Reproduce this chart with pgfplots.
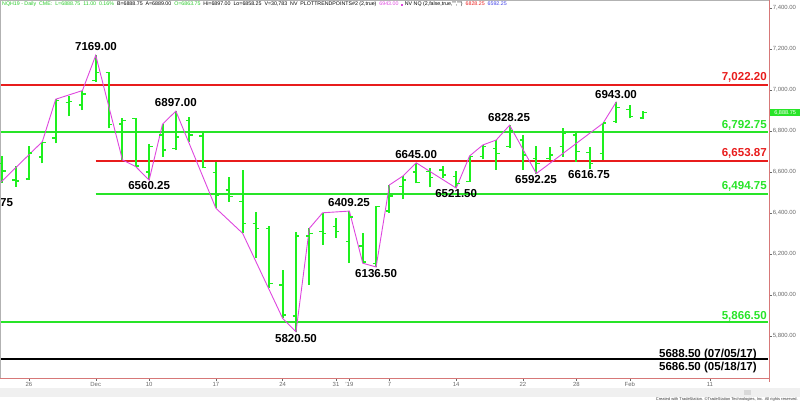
\documentclass[border=0pt]{standalone}
\usepackage{fontspec}
\setmainfont{Liberation Sans}
\usepackage{pgfplots}
\pgfplotsset{compat=1.18}
\usepackage{pgfplotstable}

\definecolor{bargreen}{RGB}{30,240,30}
\definecolor{lvlgreen}{RGB}{40,228,40}
\definecolor{lvlred}{RGB}{232,28,28}
\definecolor{trendpink}{RGB}{222,70,222}
\definecolor{axred}{RGB}{215,120,120}
\definecolor{tickgray}{RGB}{105,105,105}
\definecolor{hdrgreen}{RGB}{40,200,40}
\definecolor{hdrblue}{RGB}{60,60,230}

% open tick to the left, close tick to the right
\pgfdeclareplotmark{otick}{\pgfpathmoveto{\pgfpoint{-3.4bp}{0pt}}\pgfpathlineto{\pgfpoint{0pt}{0pt}}\pgfusepathqstroke}
\pgfdeclareplotmark{ctick}{\pgfpathmoveto{\pgfpoint{0pt}{0pt}}\pgfpathlineto{\pgfpoint{3.4bp}{0pt}}\pgfusepathqstroke}

% trading-day index (0 = Nov 26), open, high, low, close
\pgfplotstableread{
i  o        h        l        c
-2 6640     6678     6546     6605
-1 6560     6629     6528     6556
0  6565     6727     6561     6693
1  6673     6748     6642     6743
2  6766     6955     6740     6950
3  6940     6972     6873     6945
4  6927     6997     6902     6980
5  7045     7169     7040     7084
6  7086     7086     6813     6833
7  6835     6862     6659     6852
8  6860     6865     6626     6630
9  6600     6735     6560.25  6723
10 6780     6833     6675     6707
11 6716     6897     6707     6770
12 6850     6867     6748     6780
13 6776     6789     6618     6623
14 6597     6650     6423     6488
15 6512     6577     6455     6480
16 6455     6610     6301     6350
17 6350     6406     6179     6325
18 6325     6337     6033     6057
19 6049     6122     5886     5902
20 5898     6309     5820.5   6288
21 6288     6325     6049     6300
22 6309     6401     6244     6301
23 6333     6374     6277     6309
24 6260     6409.25  6155     6380
25 6239     6304     6155     6160
26 6155     6434     6136.5   6431
27 6410     6537     6399     6483
28 6530     6580     6467     6561
29 6600     6645     6545     6550
30 6601     6618     6525     6574
31 6610     6629     6569     6585
32 6577     6605     6521.5   6545
33 6553     6678     6553     6675
34 6675     6732     6662     6723
35 6716     6756     6610     6691
36 6723     6828.25  6716     6800
37 6756     6780     6610     6683
38 6667     6727     6592.25  6642
39 6667     6723     6659     6683
40 6723     6813     6675     6789
41 6780     6792     6650     6699
42 6694     6723     6616.75  6642
43 6691     6838     6659     6838
44 6845     6943     6838     6916
45 6906     6927     6862     6870
46 6863.75  6897     6858.25  6888.75
}\ohlc

\tikzset{
  swing/.style={font=\fontsize{11.6}{13}\selectfont\bfseries, inner sep=0pt},
  lvl/.style={font=\fontsize{11.6}{13}\selectfont\bfseries, inner sep=0pt, anchor=east},
}

\begin{document}
\begin{tikzpicture}
\useasboundingbox (0,0) rectangle (800bp,402bp);
% scroll bar strip
\fill[gray!12] (0,5bp) rectangle (800bp,13.5bp);
\fill[gray!30] (744bp,6.5bp) rectangle (751bp,11.5bp);

\begin{axis}[
    at={(0,24bp)}, anchor=south west,
    width=769bp, height=378bp, scale only axis,
    xmin=-2.172, xmax=55.43,
    ymin=5595, ymax=7439,
    clip=false,
    axis line style={draw=none},
    xtick={0,5,9,14,19,23,24,27,32,37,41,45,51},
    xticklabels={26,Dec,10,17,24,31,{'}19,7,14,22,28,Feb,11},
    ytick={5800,6000,...,7400},
    xtick pos=bottom, ytick pos=right, yticklabel pos=right,
    tick align=outside, major tick length=3bp,
    tick style={tickgray, line width=0.4bp},
    ticklabel style={font=\fontsize{6}{7}\selectfont, text=tickgray},
    xticklabel style={inner sep=1bp},
    yticklabel style={inner sep=0.6bp,
        /pgf/number format/.cd, fixed, fixed zerofill, precision=2,
        1000 sep={,}, assume math mode=true},
  ]

  % horizontal levels
  \addplot [lvlred, line width=2bp] coordinates {(-2.172,7022.20) (55.35,7022.20)};
  \addplot [lvlgreen, line width=2bp] coordinates {(-2.172,6792.75) (55.35,6792.75)};
  \addplot [lvlred, line width=2bp] coordinates {(5,6653.87) (55.35,6653.87)};
  \addplot [lvlgreen, line width=2bp] coordinates {(5,6494.75) (55.35,6494.75)};
  \addplot [lvlgreen, line width=2bp] coordinates {(-2.172,5866.50) (55.35,5866.50)};
  \addplot [black, line width=2bp] coordinates {(-2.172,5688.50) (55.35,5688.50)};

  % OHLC bars: high-low stems, open and close ticks
  \addplot [bargreen, line width=2bp, mark=none,
      quiver={u=0, v=\thisrow{h}-\thisrow{l}}]
      table [x=i, y=l] {\ohlc};
  \addplot [only marks, mark=otick, mark options={draw=bargreen, line width=1.4bp}]
      table [x=i, y=o] {\ohlc};
  \addplot [only marks, mark=ctick, mark options={draw=bargreen, line width=1.4bp}]
      table [x=i, y=c] {\ohlc};

  % trend points zig-zag
  \addplot [trendpink, line width=0.9bp] coordinates {
    (-2.172,6546) (1,6748) (2,6955) (4,6997) (5,7169) (7,6659) (8,6626)
    (9,6560.25) (10,6833) (11,6897) (14,6423) (16,6301) (19,5886)
    (20,5820.5) (21,6325) (22,6401) (24,6409.25) (25,6155) (26,6136.5)
    (27,6537) (28,6580) (29,6645) (32,6521.5) (33,6678) (34,6732)
    (35,6756) (36,6828.25) (38,6592.25) (43,6838) (44,6943)
  };

  % swing labels
  \node[swing] at (axis cs:5.02,7211) {7169.00};
  \node[swing] at (axis cs:11.0,6937) {6897.00};
  \node[swing] at (axis cs:9.0,6532) {6560.25};
  \node[swing, anchor=west] at (axis cs:-2.172,6449) {75};
  \node[swing] at (axis cs:23.97,6449) {6409.25};
  \node[swing] at (axis cs:26.0,6107) {6136.50};
  \node[swing] at (axis cs:20.0,5790) {5820.50};
  \node[swing] at (axis cs:29.0,6683) {6645.00};
  \node[swing] at (axis cs:32.0,6493) {6521.50};
  \node[swing] at (axis cs:35.96,6868) {6828.25};
  \node[swing] at (axis cs:37.98,6561) {6592.25};
  \node[swing] at (axis cs:41.95,6590) {6616.75};
  \node[swing] at (axis cs:43.97,6976) {6943.00};

  % level labels
  \node[lvl, text=lvlred] at (axis cs:55.28,7063) {7,022.20};
  \node[lvl, text=lvlgreen] at (axis cs:55.28,6829) {6,792.75};
  \node[lvl, text=lvlred] at (axis cs:55.28,6693) {6,653.87};
  \node[lvl, text=lvlgreen] at (axis cs:55.28,6532) {6,494.75};
  \node[lvl, text=lvlgreen] at (axis cs:55.28,5898) {5,866.50};
  \node[lvl] at (axis cs:54.53,5710) {5688.50 (07/05/17)};
  \node[lvl] at (axis cs:54.53,5648) {5686.50 (05/18/17)};

  % last price box
  \node[fill=lvlgreen, text=white, font=\fontsize{5.6}{6}\selectfont,
        inner sep=0pt, minimum width=30bp, minimum height=7bp, anchor=west]
        at (axis cs:55.50,6888.75) {6,888.75};

  % frame
  \draw[gray!60, line width=0.6bp] (rel axis cs:0,0) -- (rel axis cs:0,1) -- (rel axis cs:1,1);
  \draw[axred, line width=0.6bp] (rel axis cs:0,0) -- (rel axis cs:1,0);
  \draw[axred, line width=0.6bp] (rel axis cs:1,-0.01) -- (rel axis cs:1,1);
\end{axis}

% header line
\node[anchor=west, inner sep=0pt, font=\fontsize{5.3}{6}\selectfont] at (2bp,397.5bp) {%
  \textcolor{hdrgreen}{NQH19 - Daily\ \ CME:\ \ L=6888.75\ \ 11.00\ \ 0.16\%}\ \ B=6888.75\ \ A=6889.00\ \ \textcolor{hdrgreen}{O=6863.75}\ \ Hi=6897.00\ \ Lo=6858.25\ \ V=30,783\ \ NV\ \ PLOTTRENDPOINTS\#2 (2,true)\ \ \textcolor{trendpink}{6943.00}\ \ \textcolor{trendpink}{\rule{2bp}{2bp}}\ NV NQ (2,false,true,"","")\ \ \textcolor{lvlred}{6828.25}\ \ \textcolor{hdrblue}{6592.25}};

% footer
\node[anchor=east, inner sep=0pt, font=\fontsize{4}{5}\selectfont, text=black!80] at (798bp,2.2bp)
  {Created with TradeStation. \textcopyright TradeStation Technologies, Inc. All rights reserved.};
\end{tikzpicture}
\end{document}
